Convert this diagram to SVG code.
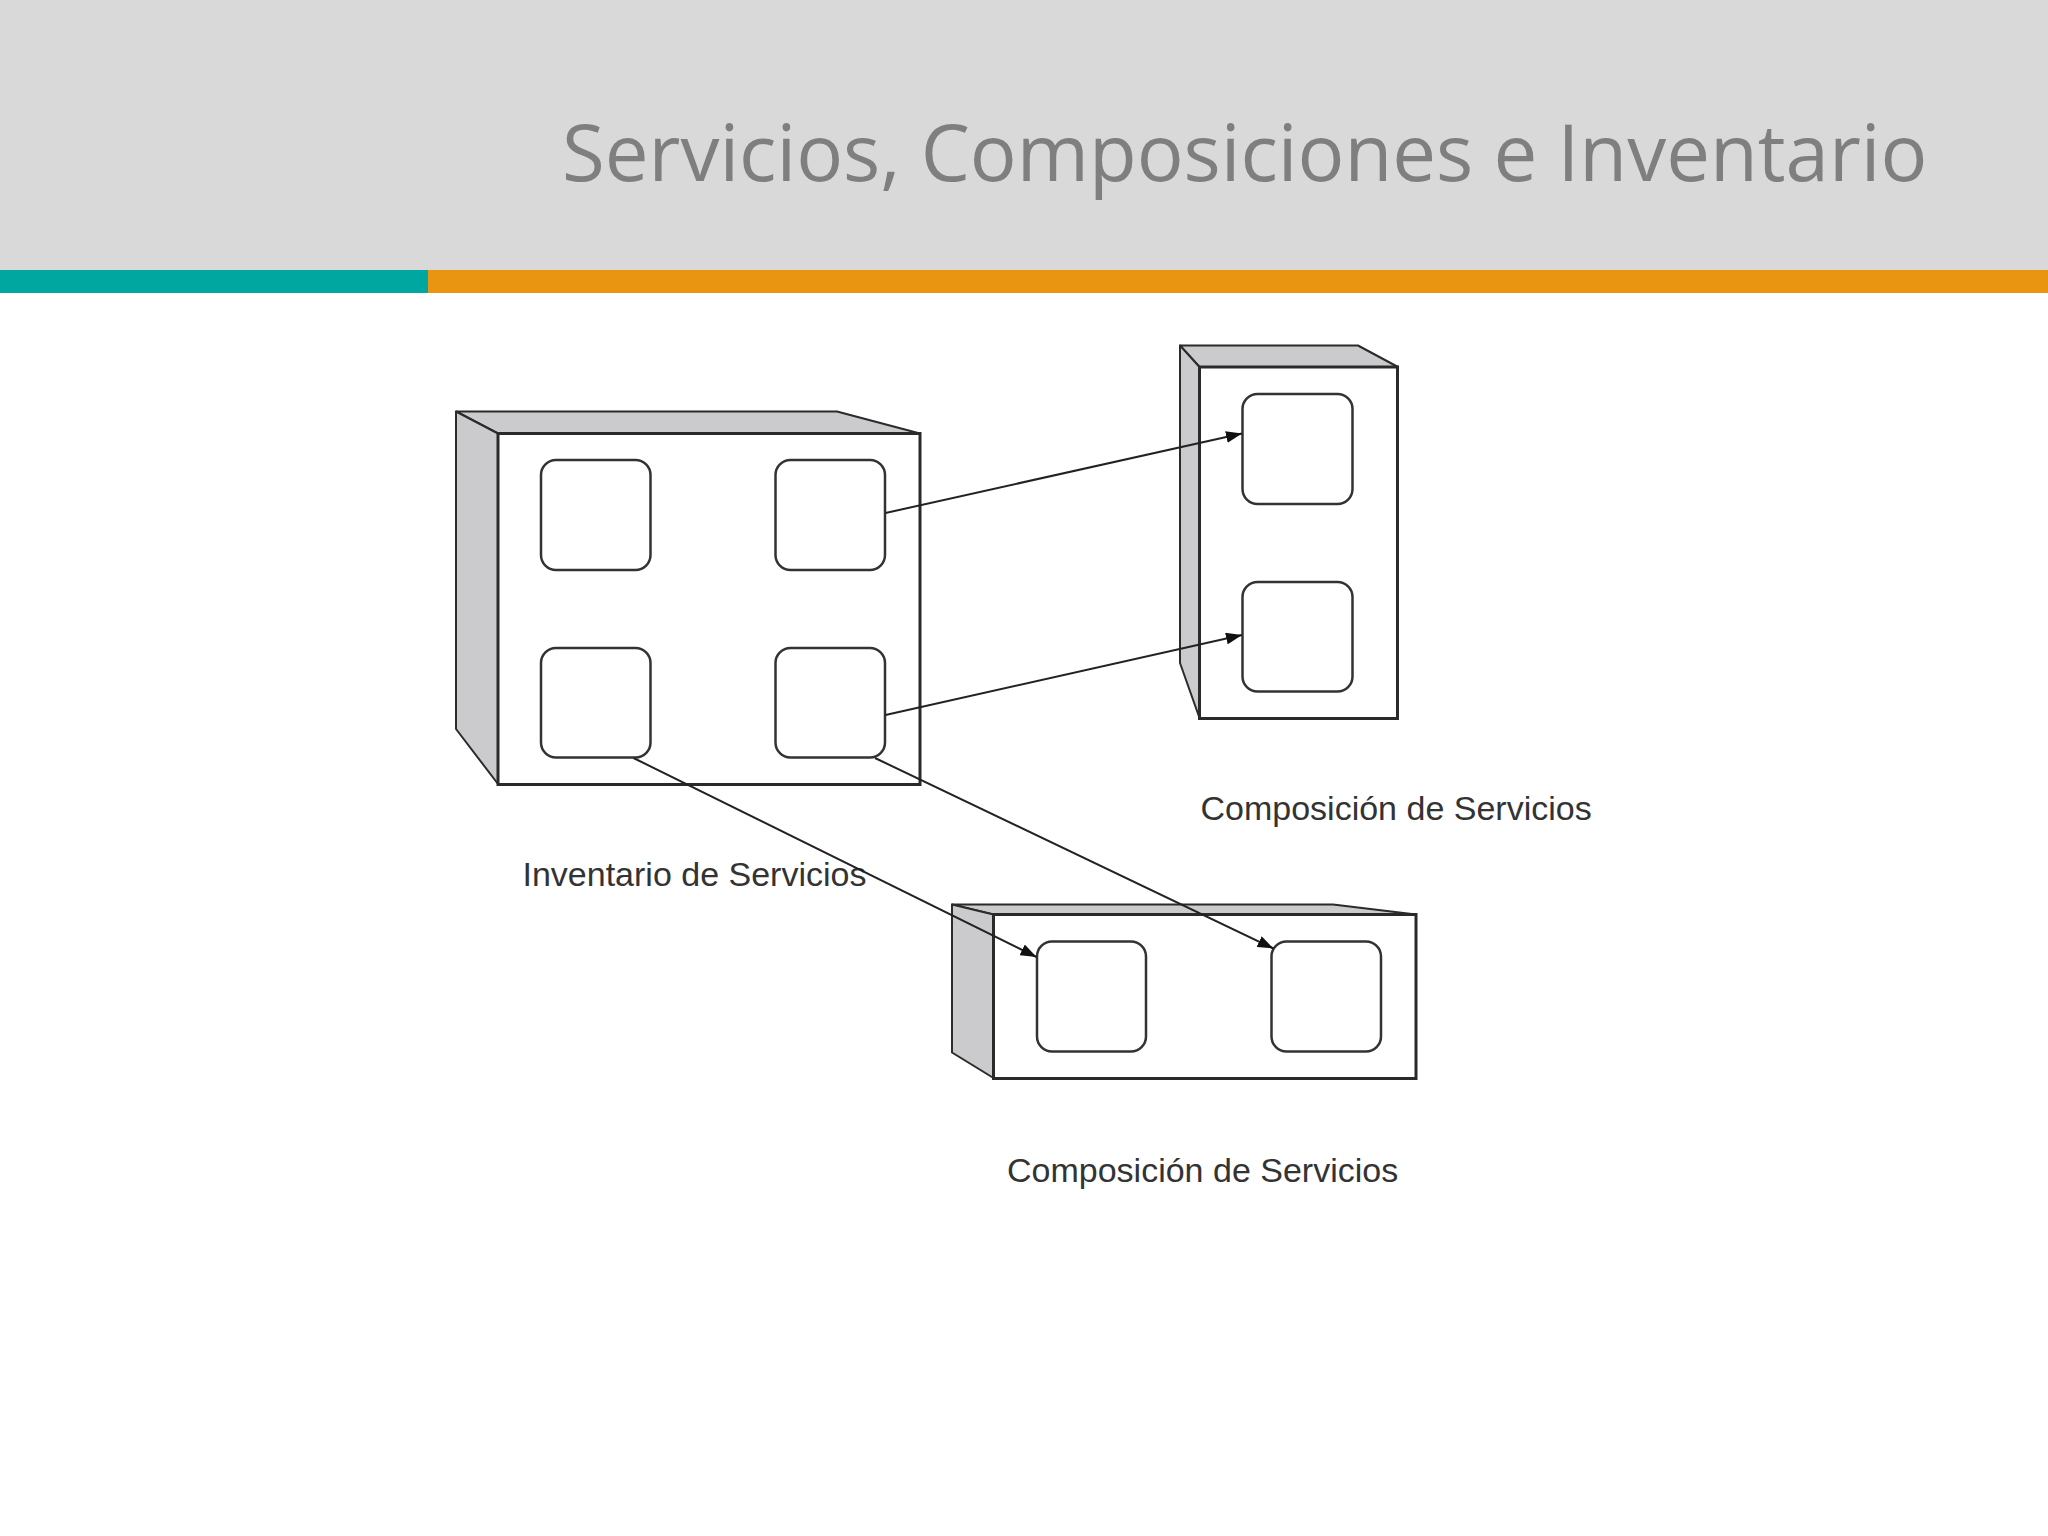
<svg xmlns="http://www.w3.org/2000/svg" width="2048" height="1536" viewBox="0 0 2048 1536">
<style>
.side{fill:#cbcacc;stroke:#2b2b2b;stroke-width:2;stroke-linejoin:round}
.front{fill:#fff;stroke:#2a2a2a;stroke-width:3}
.svc{fill:#fff;stroke:#333;stroke-width:2.5}
.conn{fill:none;stroke:#222;stroke-width:2;marker-end:url(#arrow)}
.label{font-family:"Liberation Sans",Arial,sans-serif;font-size:34px;fill:#333}
.title{font-family:"Open Sans","Noto Sans",sans-serif;font-size:78px;fill:#7f7f7f}
</style>
<defs>
<marker id="arrow" markerUnits="userSpaceOnUse" markerWidth="16" markerHeight="12" refX="16" refY="6" orient="auto">
<path d="M0 0L16 6L0 12Z" fill="#111"/>
</marker>
</defs>
<rect width="2048" height="1536" fill="#fff"/>
<rect id="header" width="2048" height="270" fill="#d9d9d9"/>
<rect id="bar-teal" y="270" width="428" height="23" fill="#00a6a0"/>
<rect id="bar-orange" x="428" y="270" width="1620" height="23" fill="#e99512"/>
<text id="title" class="title" x="562" y="181">Servicios, Composiciones e Inventario</text>

<g id="inventario">
<path class="side" d="M456 411.5H837L920 433.5H498Z"/>
<path class="side" d="M456 411.5L498 433.5V784L456 729Z"/>
<rect class="front" x="498" y="433.5" width="422" height="351"/>
<rect class="svc" x="541" y="460" width="109.5" height="110" rx="15"/>
<rect class="svc" x="775.5" y="460" width="109.5" height="110" rx="15"/>
<rect class="svc" x="541" y="648" width="109.5" height="109.5" rx="15"/>
<rect class="svc" x="775.5" y="648" width="109.5" height="109.5" rx="15"/>
<text class="label" x="522.5" y="885.5">Inventario de Servicios</text>
</g>

<g id="composicion-1">
<path class="side" d="M1180 345.5H1358L1398 367H1199.5Z"/>
<path class="side" d="M1180 345.5L1199.5 367V718L1180 663Z"/>
<rect class="front" x="1199.5" y="367" width="198" height="351.5"/>
<rect class="svc" x="1242.5" y="394" width="110" height="110" rx="15"/>
<rect class="svc" x="1242.5" y="582" width="110" height="109.5" rx="15"/>
<text class="label" x="1200.5" y="820">Composición de Servicios</text>
</g>

<g id="composicion-2">
<path class="side" d="M952 904.5H1333L1416 914.5H993.5Z"/>
<path class="side" d="M952 904.5L993.5 914.5V1078L952 1052.5Z"/>
<rect class="front" x="993.5" y="914.5" width="422.5" height="164"/>
<rect class="svc" x="1037" y="941.5" width="109" height="110" rx="15"/>
<rect class="svc" x="1271.5" y="941.5" width="109.5" height="110" rx="15"/>
<text class="label" x="1007" y="1181.5">Composición de Servicios</text>
</g>

<g id="connectors">
<line class="conn" x1="885.5" y1="513" x2="1242" y2="433.5"/>
<line class="conn" x1="885.5" y1="715" x2="1242" y2="635"/>
<line class="conn" x1="633.5" y1="758" x2="1036.5" y2="957"/>
<line class="conn" x1="875" y1="758" x2="1273.5" y2="948.5"/>
</g>
</svg>
